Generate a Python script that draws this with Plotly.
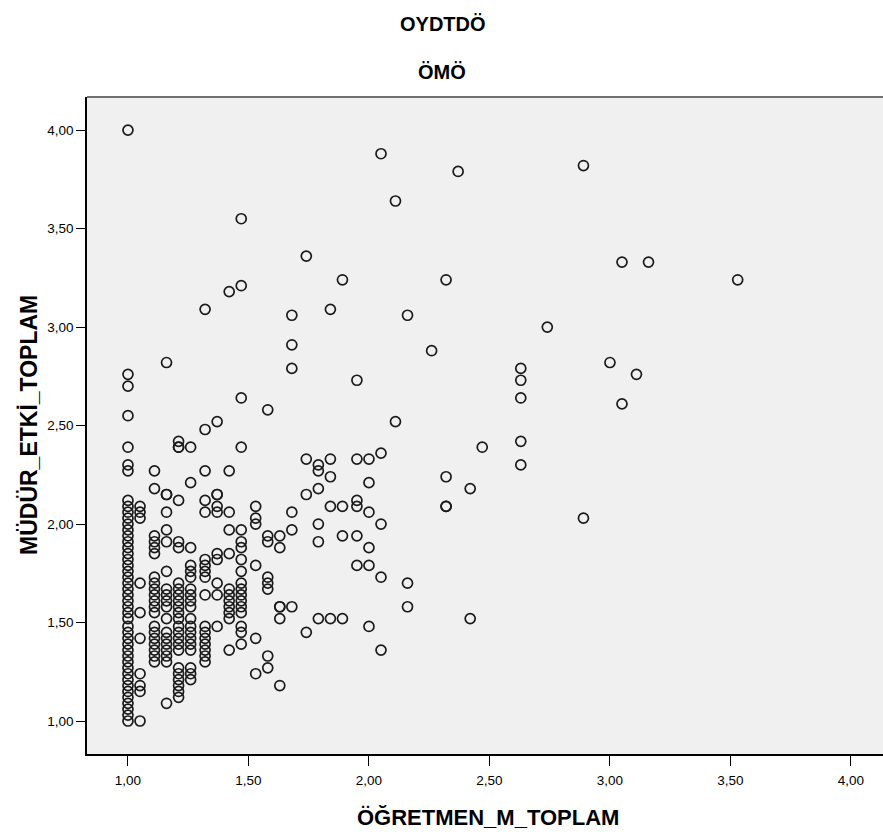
import plotly.graph_objects as go

# x levels (ÖĞRETMEN_M_TOPLAM) and the MÜDÜR_ETKİ_TOPLAM values observed at each level
x_levels = [1.00, 1.05, 1.11, 1.16, 1.21, 1.26, 1.32, 1.37, 1.42, 1.47,
            1.53, 1.58, 1.63, 1.68, 1.74, 1.79, 1.84, 1.89, 1.95, 2.00,
            2.05, 2.11, 2.16, 2.26, 2.32, 2.37, 2.42, 2.47, 2.63, 2.74,
            2.89, 3.00, 3.05, 3.11, 3.16, 3.53]

y_100 = [4.00, 2.76, 2.70, 2.55, 2.39, 2.30, 2.27, 2.12, 2.09, 2.06, 2.03, 2.00, 1.97, 1.94,
         1.91, 1.88, 1.85, 1.82, 1.79, 1.76, 1.73, 1.70, 1.67, 1.64, 1.61, 1.58, 1.55,
         1.52, 1.48, 1.45, 1.42, 1.39, 1.36, 1.33, 1.30, 1.27, 1.24, 1.21, 1.18, 1.15,
         1.12, 1.09, 1.06, 1.03, 1.00]
y_105 = [2.09, 2.06, 2.03, 1.70, 1.55, 1.42, 1.24, 1.18, 1.15, 1.00]
y_111 = [2.27, 2.18, 1.94, 1.91, 1.88, 1.85, 1.73, 1.70, 1.67, 1.64, 1.61, 1.58, 1.55,
         1.48, 1.45, 1.42, 1.39, 1.36, 1.33, 1.30]
y_116 = [2.82, 2.15, 2.15, 2.06, 1.97, 1.91, 1.76, 1.67, 1.64, 1.61, 1.58, 1.52, 1.45,
         1.42, 1.39, 1.36, 1.33, 1.30, 1.09]
y_121 = [2.42, 2.39, 2.39, 2.12, 1.91, 1.88, 1.70, 1.67, 1.64, 1.61, 1.58, 1.55, 1.52,
         1.48, 1.45, 1.42, 1.39, 1.36, 1.27, 1.24, 1.21, 1.18, 1.15, 1.12]
y_126 = [2.39, 2.21, 1.88, 1.79, 1.76, 1.73, 1.67, 1.64, 1.61, 1.58, 1.52, 1.48, 1.45,
         1.42, 1.39, 1.36, 1.27, 1.24, 1.21]
y_132 = [3.09, 2.48, 2.27, 2.12, 2.06, 1.82, 1.79, 1.76, 1.73, 1.64, 1.48, 1.45, 1.42,
         1.39, 1.36, 1.33, 1.30]
y_137 = [2.52, 2.15, 2.15, 2.09, 2.06, 1.85, 1.82, 1.70, 1.64, 1.48]
y_142 = [3.18, 2.27, 2.06, 1.97, 1.85, 1.67, 1.64, 1.61, 1.58, 1.55, 1.52, 1.36]
y_147 = [3.55, 3.21, 2.64, 2.39, 1.97, 1.91, 1.88, 1.82, 1.76, 1.70, 1.67, 1.64, 1.61,
         1.58, 1.55, 1.48, 1.45, 1.39]
y_153 = [2.09, 2.03, 2.00, 1.79, 1.42, 1.24]
y_158 = [2.58, 1.94, 1.91, 1.73, 1.70, 1.67, 1.33, 1.27]
y_163 = [1.94, 1.88, 1.58, 1.58, 1.52, 1.18]
y_168 = [3.06, 2.91, 2.79, 2.06, 1.97, 1.58]
y_174 = [3.36, 2.33, 2.15, 1.45]
y_179 = [2.30, 2.27, 2.18, 2.00, 1.91, 1.52]
y_184 = [3.09, 2.33, 2.24, 2.09, 1.52]
y_189 = [3.24, 2.09, 1.94, 1.52]
y_195 = [2.73, 2.33, 2.12, 2.09, 1.94, 1.79]
y_200 = [2.33, 2.21, 2.06, 1.88, 1.79, 1.48]
y_205 = [3.88, 2.36, 2.00, 1.73, 1.36]
y_211 = [3.64, 2.52]
y_216 = [3.06, 1.70, 1.58]
y_226 = [2.88]
y_232 = [3.24, 2.24, 2.09, 2.09]
y_237 = [3.79]
y_242 = [2.18, 1.52]
y_247 = [2.39]
y_263 = [2.79, 2.73, 2.64, 2.42, 2.30]
y_274 = [3.00]
y_289 = [3.82, 2.03]
y_300 = [2.82]
y_305 = [3.33, 2.61]
y_311 = [2.76]
y_316 = [3.33]
y_353 = [3.24]

y_columns = [y_100, y_105, y_111, y_116, y_121, y_126, y_132, y_137, y_142, y_147,
             y_153, y_158, y_163, y_168, y_174, y_179, y_184, y_189, y_195, y_200,
             y_205, y_211, y_216, y_226, y_232, y_237, y_242, y_247, y_263, y_274,
             y_289, y_300, y_305, y_311, y_316, y_353]

tick_vals = [1.0, 1.5, 2.0, 2.5, 3.0, 3.5, 4.0]
tick_text = ["1,00", "1,50", "2,00", "2,50", "3,00", "3,50", "4,00"]

xs, ys = [], []
for xv, col in zip(x_levels, y_columns):
    for yv in col:
        xs.append(xv)
        ys.append(yv)

W, H = 883, 837
L, R, T, B = 87, 0, 97, 83
font_main = "Liberation Sans, Arial, sans-serif"

fig = go.Figure()
fig.add_trace(go.Scatter(
    x=xs, y=ys, mode="markers",
    marker=dict(symbol="circle-open", size=10, color="#1a1a1a", line=dict(width=1.7, color="#1a1a1a")),
    hoverinfo="x+y", showlegend=False,
))

fig.update_layout(
    width=W, height=H,
    margin=dict(l=L, r=R, t=T, b=B),
    paper_bgcolor="white",
    plot_bgcolor="#F0F0F0",
    font=dict(family=font_main, size=13, color="black"),
    xaxis=dict(
        range=[0.830, 4.133], tickvals=tick_vals, ticktext=tick_text,
        showgrid=False, zeroline=False, showline=True, linecolor="black", linewidth=1.5,
        ticks="outside", ticklen=10, tickcolor="black", tickwidth=1,
        ticklabelstandoff=3,
        tickfont=dict(family=font_main, size=13.5, color="black"),
    ),
    yaxis=dict(
        range=[0.8325, 4.168], tickvals=tick_vals, ticktext=tick_text,
        showgrid=False, zeroline=False, showline=True, linecolor="black", linewidth=1.5,
        ticks="outside", ticklen=9, tickcolor="black", tickwidth=1,
        tickfont=dict(family=font_main, size=13.5, color="black"),
    ),
    shapes=[dict(type="line", xref="paper", yref="paper", x0=0, x1=1, y0=1, y1=1,
                 line=dict(color="#707070", width=2))],
)

# titles and axis labels placed in pixel terms relative to the plot area
pw = W - L - R
ph = H - T - B
def px_x(p):
    return (p - L) / pw
def px_y(p):
    return (H - B - p) / ph

fig.add_annotation(text="<b>OYDTDÖ</b>", x=px_x(443), y=px_y(24), xref="paper", yref="paper",
                   showarrow=False, font=dict(family=font_main, size=20, color="black"),
                   xanchor="center", yanchor="middle")
fig.add_annotation(text="<b>ÖMÖ</b>", x=px_x(442), y=px_y(72), xref="paper", yref="paper",
                   showarrow=False, font=dict(family=font_main, size=20, color="black"),
                   xanchor="center", yanchor="middle")
fig.add_annotation(text="<b>ÖĞRETMEN_M_TOPLAM</b>", x=px_x(488), y=px_y(817), xref="paper", yref="paper",
                   showarrow=False, font=dict(family=font_main, size=22, color="black"),
                   xanchor="center", yanchor="middle")
fig.add_annotation(text="<b>MÜDÜR_ETKİ_TOPLAM</b>", x=px_x(29), y=px_y(425), xref="paper", yref="paper",
                   showarrow=False, textangle=-90, font=dict(family=font_main, size=23, color="black"),
                   xanchor="center", yanchor="middle")

fig.write_html("out.html")
